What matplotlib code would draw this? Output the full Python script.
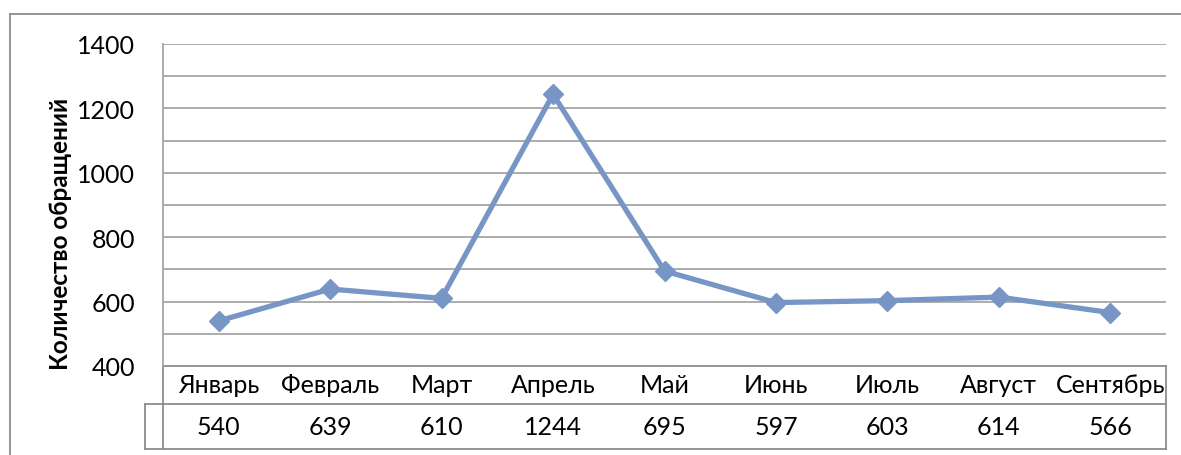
import numpy as np
import matplotlib
matplotlib.use("Agg")
import matplotlib.pyplot as plt
from matplotlib.lines import Line2D

plt.rcParams['font.family'] = ['Lato', 'DejaVu Sans']

months = ['Январь', 'Февраль', 'Март', 'Апрель', 'Май', 'Июнь', 'Июль', 'Август', 'Сентябрь']
values = [540, 639, 610, 1244, 695, 597, 603, 614, 566]
yticks = [400, 600, 800, 1000, 1200, 1400]

W, H = 1181, 456
fig = plt.figure(figsize=(W / 100, H / 100), dpi=100)

# область построения
x0, x1, ytop, ybot = 163, 1166, 45, 367
ax = fig.add_axes([x0 / W, 1 - ybot / H, (x1 - x0) / W, (ybot - ytop) / H])

grid_col = '#a6a6a6'
line_col = '#7796c5'
fs = 18

for g in range(500, 1401, 100):
    ax.axhline(g, color=grid_col, lw=1.3, zorder=1)

x = np.arange(len(months)) + 0.5
ax.plot(x, values, color=line_col, lw=3.8, marker='D', markersize=10.5,
        markerfacecolor=line_col, markeredgecolor=line_col, zorder=3,
        clip_on=False)

ax.set_xlim(0, len(months))
ax.set_ylim(400, 1400)
ax.set_yticks(yticks)
ax.set_yticklabels([str(t) for t in yticks], fontsize=fs, color='#000000')
ax.tick_params(axis='y', length=0, pad=20)
ax.set_xticks([])
for s in ['top', 'right', 'bottom']:
    ax.spines[s].set_visible(False)
ax.spines['left'].set_color(grid_col)
ax.spines['left'].set_linewidth(1.3)

ph = ybot - ytop
pw = x1 - x0

ax.set_ylabel('Количество обращений', fontsize=17.5, fontweight='bold')
ax.yaxis.set_label_coords((72 - x0) / pw, (ybot - 234) / ph)

# таблица данных под осью
r1 = -(405 - ybot) / ph
r2 = -(450 - ybot) / ph
xl = (145 - x0) / pw
tab_col = '#8c8c8c'
lines = [
    ([0, 1], [0, 0]),
    ([xl, 1], [r1, r1]),
    ([xl, 1], [r2, r2]),
    ([0, 0], [0, r2]),
    ([xl, xl], [r1, r2]),
    ([1, 1], [0, r2]),
]
for xs, ys in lines:
    ax.add_line(Line2D(xs, ys, transform=ax.transAxes, color=tab_col, lw=1.3, clip_on=False))

trans = ax.get_xaxis_transform()
for xi, m, v in zip(x, months, values):
    ax.text(xi, r1 / 2, m, transform=trans, ha='center', va='center', fontsize=fs)
    ax.text(xi, (r1 + r2) / 2, str(v), transform=trans, ha='center', va='center', fontsize=fs)

# рамка диаграммы
frame_col = '#8c8c8c'
fig.add_artist(Line2D([10 / W, 10 / W], [0, 1 - 15 / H], color=frame_col, lw=1.3))
fig.add_artist(Line2D([10 / W, 1], [1 - 15 / H, 1 - 15 / H], color=frame_col, lw=1.3))

fig.savefig('out.png', dpi=100, facecolor='white')
